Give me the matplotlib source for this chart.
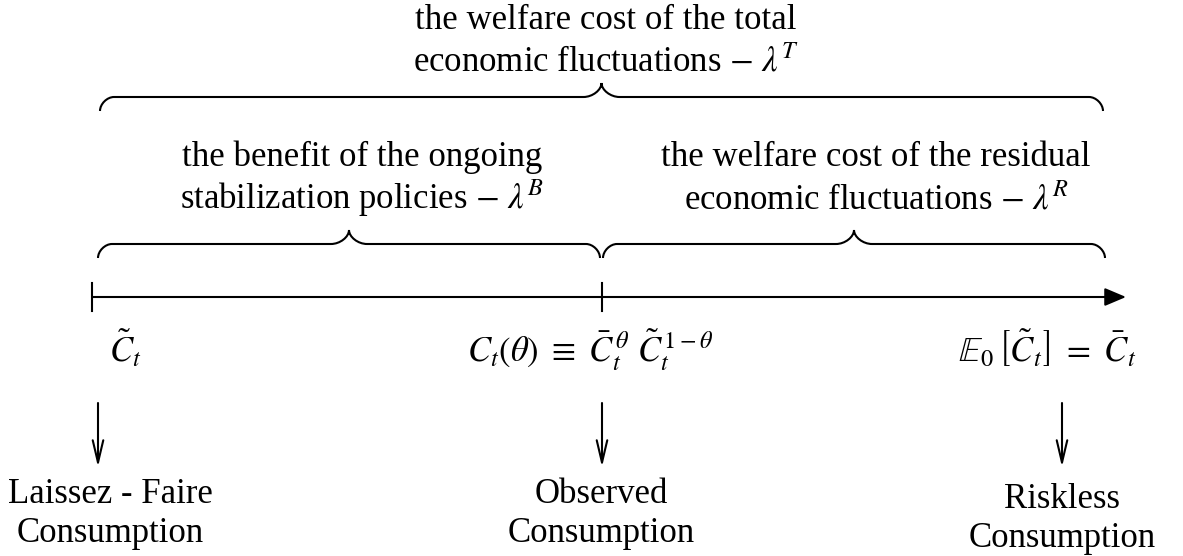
import matplotlib
matplotlib.use("Agg")
import matplotlib.pyplot as plt
from matplotlib.path import Path
from matplotlib.patches import PathPatch

plt.rcParams['font.family'] = ['Liberation Serif', 'DejaVu Serif']
plt.rcParams['mathtext.fontset'] = 'stix'

# points on the consumption line (pixel x) and the labels that go with them
point_x = [92, 602, 1062]
point_math = [r'$\tilde{C}_t$',
              r'$C_t(\theta)\ \equiv\ \bar{C}_t^{\,\theta}\ \tilde{C}_t^{\,1-\theta}$',
              r'$\mathbb{E}_0\,\left[\tilde{C}_t\right]\ =\ \bar{C}_t$']
math_x = [125, 590, 1047]

# bottom labels: (line 1, line 2), x, baselines
bottom_labels = [('Laissez - Faire', 'Consumption'),
                 ('Observed', 'Consumption'),
                 ('Riskless', 'Consumption')]
bottom_x = [110, 601, 1062]
bottom_base = [(503, 542), (503, 542), (508, 547)]
down_x = [98, 602, 1062]

# braces: (left, right, y of the flat part)
braces = [(100, 1103, 97), (98, 600, 244), (603, 1105, 244)]
brace_lines = [('the welfare cost of the total', r'economic fluctuations $-\ \lambda^T$'),
               ('the benefit of the ongoing', r'stabilization policies $-\ \lambda^B$'),
               ('the welfare cost of the residual', r'economic fluctuations $-\ \lambda^R$')]
brace_text_x = [606, 362, 876]
brace_text_base = [(29, 72), (166, 209), (166, 209)]

FS = 25
LW = 1.5


def draw_brace(ax, x0, x1, y, h=14, r=14, rm=18):
    xm = (x0 + x1) / 2
    k = 0.5
    verts = [(x0, y + h),
             (x0, y + h * k), (x0 + r * (1 - k), y), (x0 + r, y),
             (xm - rm, y),
             (xm - rm * k, y), (xm, y - h * (1 - k)), (xm, y - h),
             (xm, y - h * (1 - k)), (xm + rm * k, y), (xm + rm, y),
             (x1 - r, y),
             (x1 - r * (1 - k), y), (x1, y + h * k), (x1, y + h)]
    codes = [Path.MOVETO,
             Path.CURVE4, Path.CURVE4, Path.CURVE4,
             Path.LINETO,
             Path.CURVE4, Path.CURVE4, Path.CURVE4,
             Path.CURVE4, Path.CURVE4, Path.CURVE4,
             Path.LINETO,
             Path.CURVE4, Path.CURVE4, Path.CURVE4]
    ax.add_patch(PathPatch(Path(verts, codes), fill=False, lw=LW,
                           color='black', capstyle='butt'))


fig = plt.figure(figsize=(11.83, 5.56), dpi=100)
ax = fig.add_axes([0, 0, 1, 1])
ax.set_xlim(0, 1183)
ax.set_ylim(556, 0)
ax.axis('off')

# main line with filled arrow head
axis_y = 297
ax.annotate('', xy=(1126, axis_y), xytext=(point_x[0], axis_y),
            arrowprops=dict(arrowstyle='-|>,head_length=1.3,head_width=0.55',
                            lw=LW, color='black', shrinkA=0, shrinkB=0))
for px in point_x[:2]:
    ax.plot([px, px], [axis_y - 14, axis_y + 14], color='black', lw=LW)

for (x0, x1, y) in braces:
    draw_brace(ax, x0, x1, y)
for (l1, l2), tx, (b1, b2) in zip(brace_lines, brace_text_x, brace_text_base):
    ax.text(tx, b1, l1, ha='center', va='baseline', fontsize=FS)
    ax.text(tx, b2, l2, ha='center', va='baseline', fontsize=FS)

for m, mx in zip(point_math, math_x):
    ax.text(mx, 350, m, ha='center', va='center', fontsize=FS)

for dx in down_x:
    ax.annotate('', xy=(dx, 467), xytext=(dx, 403),
                arrowprops=dict(arrowstyle='->,head_length=1.6,head_width=0.38',
                                lw=LW, color='black', shrinkA=0, shrinkB=0))

for (l1, l2), bx, (b1, b2) in zip(bottom_labels, bottom_x, bottom_base):
    ax.text(bx, b1, l1, ha='center', va='baseline', fontsize=FS)
    ax.text(bx, b2, l2, ha='center', va='baseline', fontsize=FS)

fig.savefig('out.png', dpi=100)
